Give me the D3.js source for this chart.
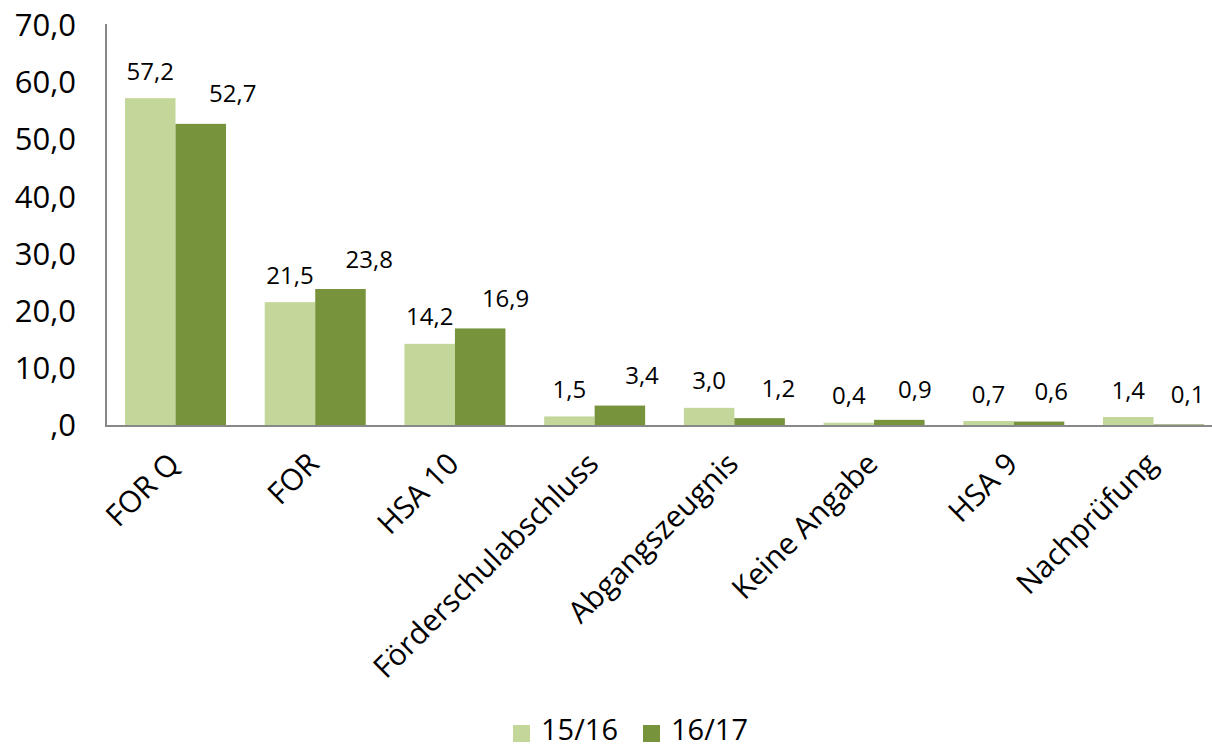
<!DOCTYPE html>
<html><head><meta charset="utf-8">
<script src="https://cdn.jsdelivr.net/npm/d3@7"></script>
<style>body{margin:0;background:#fff}svg{display:block}text{font-family:"Open Sans",sans-serif;fill:#000}</style>
</head><body>
<script>
const categories = ["FOR Q","FOR","HSA 10","Förderschulabschluss","Abgangszeugnis","Keine Angabe","HSA 9","Nachprüfung"];
const series = ["15/16","16/17"];
const values1516 = [57.2,21.5,14.2,1.5,3.0,0.4,0.7,1.4];
const values1617 = [52.7,23.8,16.9,3.4,1.2,0.9,0.6,0.1];
const yTicks = [0,10,20,30,40,50,60,70];
const colors = ["#c4d79b","#77933c"];

const W=1212,H=748;
const svg=d3.select("body").append("svg").attr("width",W).attr("height",H);
const mLeft=106,mRight=1223,mTop=25,mBottom=425;
const y=d3.scaleLinear().domain([0,70]).range([mBottom,mTop]);
const x0=d3.scaleBand().domain(categories).range([mLeft,mRight]).paddingInner(0.277).paddingOuter(0.136);
const x1=d3.scaleBand().domain(series).range([0,x0.bandwidth()]);
const data=categories.map((c,i)=>({c,i,vals:[values1516[i],values1617[i]]}));
const fmt=v=>v.toFixed(1).replace(".",",");

// y axis labels
svg.append("g").selectAll("text").data(yTicks).join("text")
  .attr("x",76).attr("y",d=>y(d)).attr("dy","0.36em").attr("text-anchor","end")
  .style("font-size","31px").text(d=>d===0?",0":fmt(d));

// bars + value labels
const g=svg.append("g");
data.forEach(d=>{
  d.vals.forEach((v,j)=>{
    const s=series[j];
    const bx=x0(d.c)+x1(s);
    g.append("rect").attr("x",bx).attr("y",y(v)).attr("width",x1.bandwidth()).attr("height",mBottom-y(v)).attr("fill",colors[j]);
    const off = j===1 ? 32-3.3*d.i : 0;
    g.append("text").attr("x",bx+x1.bandwidth()/2+off).attr("y",y(v)-(j===1?30:27))
      .attr("dy","0.36em").attr("text-anchor","middle").style("font-size","24px").text(fmt(v));
  });
});

// axes lines
svg.append("line").attr("x1",mLeft).attr("x2",mLeft).attr("y1",24).attr("y2",mBottom+1).attr("stroke","#888").attr("stroke-width",2);
svg.append("line").attr("x1",mLeft-1).attr("x2",W).attr("y1",mBottom+1).attr("y2",mBottom+1).attr("stroke","#888").attr("stroke-width",2);

// category labels
svg.append("g").selectAll("text").data(categories).join("text")
  .attr("transform",d=>`translate(${x0(d)+x0.bandwidth()/2-2},${mBottom+33}) rotate(-45)`)
  .attr("text-anchor","end").attr("dy","0.36em").style("font-size","30px").text(d=>d);

// legend
const leg=svg.append("g");
const lx=[513,643];
series.forEach((s,i)=>{
  leg.append("rect").attr("x",lx[i]).attr("y",725).attr("width",17).attr("height",17).attr("fill",colors[i]);
  leg.append("text").attr("x",lx[i]+28).attr("y",740).style("font-size","29px").text(s);
});
</script>
</body></html>
